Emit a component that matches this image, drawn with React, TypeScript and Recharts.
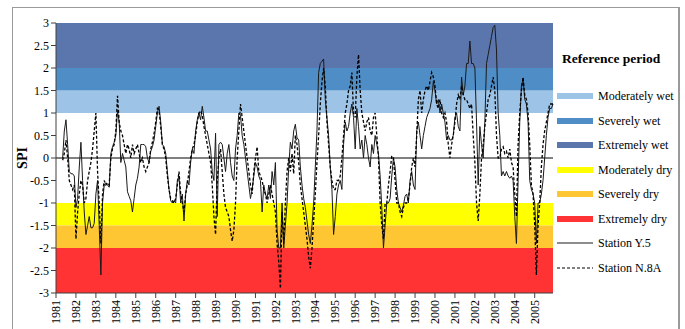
import React from 'react';
import {
  LineChart,
  Line,
  XAxis,
  YAxis,
  ReferenceArea,
  ReferenceLine,
} from 'recharts';

// Monthly SPI values, January 1981 – December 2005 (first months undefined).
const stationY5: (number | null)[] = [
  null, null, null, null, 0.0, 0.6, 0.85, 0.3, -0.3, -0.35, -0.35, -0.4,
  -1.1, -0.9, -0.2, 0.35, -0.5, -1.2, -1.7, -1.5, -1.3, -1.55, -1.55, -1.45,
  -0.8, -0.5, -1.5, -2.6, -1.0, -0.6, -0.55, -0.6, -0.65, 0.1, 0.25, 0.35,
  0.5, 1.05, 0.8, -0.1, 0.1, -0.05, -0.2, -0.75, -0.85, -0.95, -1.2, -0.9,
  -0.6, -0.45, -0.2, 0.3, 0.3, 0.3, 0.25, 0.0, -0.1, 0.15, 0.25, 0.4,
  0.7, 1.0, 1.15, 0.8, 0.3, 0.25, 0.1, -0.3, -0.7, -0.95, -1.0, -0.95,
  -1.0, -0.5, -0.4, -1.0, -0.8, -1.4, -0.8, -0.5, -0.6, -0.1, 0.2, 0.1,
  0.6, 0.85, 1.0, 0.85, 1.15, 0.9, 0.6, 0.6, 0.4, 0.2, -0.3, -0.5,
  0.55, -1.3, 0.3, 0.35, 0.3, 0.0, -0.3, 0.1, 0.3, -0.1, -0.4, -0.5,
  0.2, 0.5, 1.0, 0.95, 0.5, 0.3, 0.0, -0.3, -0.6, -0.9, -0.7, -0.4,
  -0.1, -0.2, -0.4, -0.5, -1.2, -0.6, -0.8, -0.9, -0.6, -0.9, -0.3, -0.6,
  -0.1, -1.6, -2.0, -2.0, -1.0, -2.0, -1.5, -1.0, -0.2, 0.35, 0.2, 0.6,
  0.75, 0.45, 0.4, -0.2, -0.6, -0.9, -1.1, -1.4, -1.7, -1.9, -1.5, -1.0,
  -0.2, 0.6, 1.9, 2.1, 2.15, 2.2, 1.3, 0.9, 0.5, -0.2, -0.7, -1.7,
  -1.3, -0.8, -0.6, -0.5, -0.7, 0.3, 0.8, 0.6, 0.7, 1.0, 1.2, 0.9,
  0.2, 1.1, 0.7, 0.2, 0.4, 0.0, 0.5, 0.3, 0.0, -0.2, 0.3, 0.1,
  0.5, 0.3, 0.1, -0.4, -1.1, -2.0, -1.5, -1.0, -1.0, -0.9, -0.4, 0.0,
  -0.2, -0.7, -1.0, -1.1, -1.2, -1.05, -0.85, -0.8, -1.0, -0.5, -0.3, -0.6,
  -0.7, 0.6, 0.8, 0.5, 0.2, 0.5, 0.7, 0.9, 1.0, 1.1, 1.3, 1.7,
  1.5, 1.2, 1.3, 1.0, 1.2, 1.0, 0.8, 0.4, 0.5, 0.4, 0.4, 0.5,
  0.9, 1.0, 0.7, 0.6, 1.8, 1.4, 1.6, 2.1, 2.1, 2.6, 2.1, 2.1,
  2.0, 0.8, -0.6, 0.7, 0.3, 0.0, 0.8, 2.1, 2.3, 2.5, 2.7, 2.9,
  2.95, 2.4, 1.0, 0.5, -0.4, -0.3, -0.4, -0.3, -0.4, -0.45, -0.4, -0.5,
  -1.3, -1.9, -0.5, 0.8, 1.6, 1.75, 1.3, 1.2, 0.8, -0.5, -0.7, -0.8,
  -1.0, -1.9, -1.0, -1.0, -0.8, -0.5, 0.0, 0.5, 0.9, 1.1, 1.1, 1.2,
];

const stationN8A: (number | null)[] = [
  null, null, null, null, -0.05, 0.1, 0.4, 0.0, -0.5, -0.6, -0.7, -0.6,
  -1.8, -1.2, -0.8, -0.5, -0.6, -1.0, -0.9, -0.5, -0.3, -0.1, 0.2, 0.6,
  1.0, -0.3, -1.0, -1.9, -0.8, -0.5, -0.6, -0.55, -0.6, 0.0, 0.2, 0.3,
  0.6, 1.38, 0.8, 0.6, 0.5, 0.3, 0.1, 0.3, 0.2, 0.0, 0.3, 0.1,
  0.2, 0.3, 0.1, -0.1, 0.0, -0.2, -0.3, -0.2, -0.1, 0.2, 0.35, 0.55,
  0.8, 1.1, 1.05, 0.7, 0.3, 0.2, 0.0, -0.4, -0.7, -0.9, -0.95, -1.0,
  -0.9, -0.6, -0.3, -0.8, -1.0, -1.2, -0.8, -0.6, -0.3, 0.0, 0.2, 0.3,
  0.5, 0.8, 1.0, 1.05, 0.95, 0.7, 0.5, 0.3, 0.1, -0.1, -0.6, -1.3,
  -1.7, -0.5, 0.0, 0.2, -0.3, -0.8, -1.1, -1.2, -1.3, -1.6, -1.85, -1.6,
  -1.0, 0.0, 0.6, 1.2, 0.9, 0.6, 0.3, 0.0, -0.3, -0.6, -0.8, -0.3,
  0.0, 0.25, -0.3, -0.4, -0.5, -0.7, -0.8, -1.0, -0.8, -0.6, -0.8, -1.0,
  -1.2, -1.9, -2.3, -2.9, -1.2, -1.9, -1.0, -0.3, 0.0, -0.3, 0.1, -0.35,
  0.5, 0.3, -0.1, -0.6, -0.9, -1.2, -1.5, -1.8, -2.2, -2.45, -2.0, -1.4,
  -0.8, -0.1, 0.5, 1.2, 1.7, 2.0, 1.6, 0.8, 0.3, -0.2, -0.5, -0.7,
  -0.7, -0.5, -0.5, -0.4, 0.0, 0.5, 1.0, 1.2, 1.5, 1.6, 1.9, 1.0,
  0.9, 1.8, 2.3, 1.5, 1.0, 0.8, 0.6, 0.8, 0.9, 0.6, 0.5, 0.9,
  1.0, 0.5, 0.0, -1.0, -1.5, -1.8, -1.0, -1.0, -0.6, -0.3, 0.05, 0.0,
  -0.5, -1.0, -1.0, -1.2, -1.3, -1.1, -1.0, -1.0, -0.9, -0.6, -0.2, 0.0,
  -0.2, 0.5, 1.3, 1.5, 1.0, 1.3, 1.5, 1.6, 1.5, 1.7, 1.9, 1.8,
  1.6, 1.2, 1.1, 1.3, 1.0, 0.9, 1.0, 0.8, 0.3, 0.0, 0.3, 0.5,
  0.8, 1.2, 1.4, 1.3, 1.6, 1.4, 1.3, 1.3, 1.2, 1.1, 1.2, 0.5,
  -0.1, -1.0, -1.4, -0.8, 0.0, 0.3, 0.7, 1.0, 1.3, 1.4, 1.6, 1.8,
  1.5, 0.5, 0.0, 0.0, 0.2, 0.25, 0.1, 0.15, 0.0, 0.2, -0.1, -0.2,
  -0.8, -1.3, 0.3, 1.0, 1.5, 1.8, 1.4, 1.3, 1.0, 0.3, -0.6, -0.8,
  -1.5, -2.6, -1.5, -1.0, -0.2, 0.3, 0.6, 0.8, 1.0, 1.2, 1.2, 1.2,
];

const yearLabels = [
  '1981', '1982', '1983', '1984', '1985', '1986', '1987', '1988', '1989',
  '1990', '1991', '1992', '1993', '1994', '1995', '1996', '1997', '1998',
  '1999', '2000', '2001', '2002', '2003', '2004', '2005',
];

const spiTicks = [-3, -2.5, -2, -1.5, -1, -0.5, 0, 0.5, 1, 1.5, 2, 2.5, 3];

// SPI classes shaded behind the series
const bandNames = [
  'Moderately wet', 'Severely wet', 'Extremely wet',
  'Moderately dry', 'Severely dry', 'Extremely dry',
];
const bandLower = [1, 1.5, 2, -1.5, -2, -3];
const bandUpper = [1.5, 2, 3, -1, -1.5, -2];
const bandColors = ['#9DC3E6', '#4F8DC6', '#5B76AC', '#FFFF00', '#FDC632', '#FF3333'];

const data = stationY5.map((v, i) => ({ i, y5: v, n8a: stationN8A[i] }));
const yearTicks = yearLabels.map((_, k) => k * 12);

const FONT = '"Liberation Serif", "Times New Roman", serif';

const YearTick = (props: any) => {
  const { x, y, payload } = props;
  const label = yearLabels[Math.round(payload.value / 12)];
  return (
    <text
      x={x}
      y={y}
      dy="0.35em"
      transform={`rotate(-90, ${x}, ${y})`}
      textAnchor="end"
      fontSize={12}
      fontFamily={FONT}
      fill="#000"
    >
      {label}
    </text>
  );
};

const SpiLabel = (props: any) => {
  const { viewBox } = props;
  const cx = 22;
  const cy = viewBox.y + viewBox.height / 2;
  return (
    <text
      x={cx}
      y={cy}
      transform={`rotate(-90, ${cx}, ${cy})`}
      textAnchor="middle"
      dominantBaseline="central"
      fontSize={14}
      fontWeight="bold"
      fontFamily={FONT}
      fill="#000"
    >
      SPI
    </text>
  );
};

const legendRow = (swatch: React.ReactNode, label: string, top: number) => (
  <div
    key={label}
    style={{ position: 'absolute', left: 0, top: top - 9, height: 18, width: 130 }}
  >
    <svg width={38} height={18} style={{ position: 'absolute', left: 0, top: 0 }}>
      {swatch}
    </svg>
    <span
      style={{
        position: 'absolute',
        left: 41,
        top: 0,
        lineHeight: '18px',
        fontSize: 12,
        fontFamily: FONT,
        color: '#000',
        whiteSpace: 'nowrap',
      }}
    >
      {label}
    </span>
  </div>
);

export default function App() {
  return (
    <div
      style={{
        position: 'absolute',
        left: 0,
        top: 0,
        width: 685,
        height: 329,
        background: '#fff',
        overflow: 'hidden',
      }}
    >
      <div
        style={{
          position: 'absolute',
          left: 12,
          top: 7,
          width: 665,
          height: 340,
          borderTop: '1px solid #9a9a9a',
          borderLeft: '1px solid #9a9a9a',
          borderRight: '2px solid #9a9a9a',
        }}
      />
      <div style={{ position: 'absolute', left: 0, top: 0 }}>
        <LineChart
          width={685}
          height={329}
          data={data}
          margin={{ top: 23, right: 132, bottom: 0, left: 10 }}
        >
          {bandNames.map((name, k) => (
            <ReferenceArea
              key={name}
              y1={bandLower[k]}
              y2={bandUpper[k]}
              fill={bandColors[k]}
              fillOpacity={1}
              stroke="none"
            />
          ))}
          <XAxis
            dataKey="i"
            type="number"
            domain={[0, 299]}
            ticks={yearTicks}
            interval={0}
            height={36}
            tickSize={5}
            tick={<YearTick />}
            axisLine={{ stroke: '#404040' }}
            tickLine={{ stroke: '#404040' }}
          />
          <YAxis
            type="number"
            domain={[-3, 3]}
            ticks={spiTicks}
            interval={0}
            width={46}
            tickSize={5}
            tick={{ fontSize: 12, fontFamily: FONT, fill: '#000' }}
            axisLine={{ stroke: '#404040' }}
            tickLine={{ stroke: '#404040' }}
            label={<SpiLabel />}
          />
          <ReferenceLine y={0} stroke="#000" strokeWidth={1} />
          <Line
            dataKey="y5"
            type="linear"
            stroke="#1a1a1a"
            strokeWidth={1}
            dot={false}
            isAnimationActive={false}
          />
          <Line
            dataKey="n8a"
            type="linear"
            stroke="#000"
            strokeWidth={1.3}
            strokeDasharray="3 2"
            dot={false}
            isAnimationActive={false}
          />
        </LineChart>
      </div>
      <div style={{ position: 'absolute', left: 557, top: 0, width: 128, height: 329 }}>
        <div
          style={{
            position: 'absolute',
            left: 5,
            top: 51,
            fontSize: 13.5,
            fontWeight: 'bold',
            fontFamily: FONT,
            whiteSpace: 'nowrap',
            color: '#000',
          }}
        >
          Reference period
        </div>
        {bandNames.map((name, k) =>
          legendRow(
            <rect x={0} y={6} width={36} height={6} fill={bandColors[k]} />,
            name,
            96 + k * 24.5
          )
        )}
        {legendRow(
          <line x1={0} y1={9} x2={36} y2={9} stroke="#1a1a1a" strokeWidth={1} />,
          'Station Y.5',
          96 + 6 * 24.5
        )}
        {legendRow(
          <line
            x1={0}
            y1={9}
            x2={36}
            y2={9}
            stroke="#000"
            strokeWidth={1}
            strokeDasharray="3 2"
          />,
          'Station N.8A',
          96 + 7 * 24.5
        )}
      </div>
    </div>
  );
}
